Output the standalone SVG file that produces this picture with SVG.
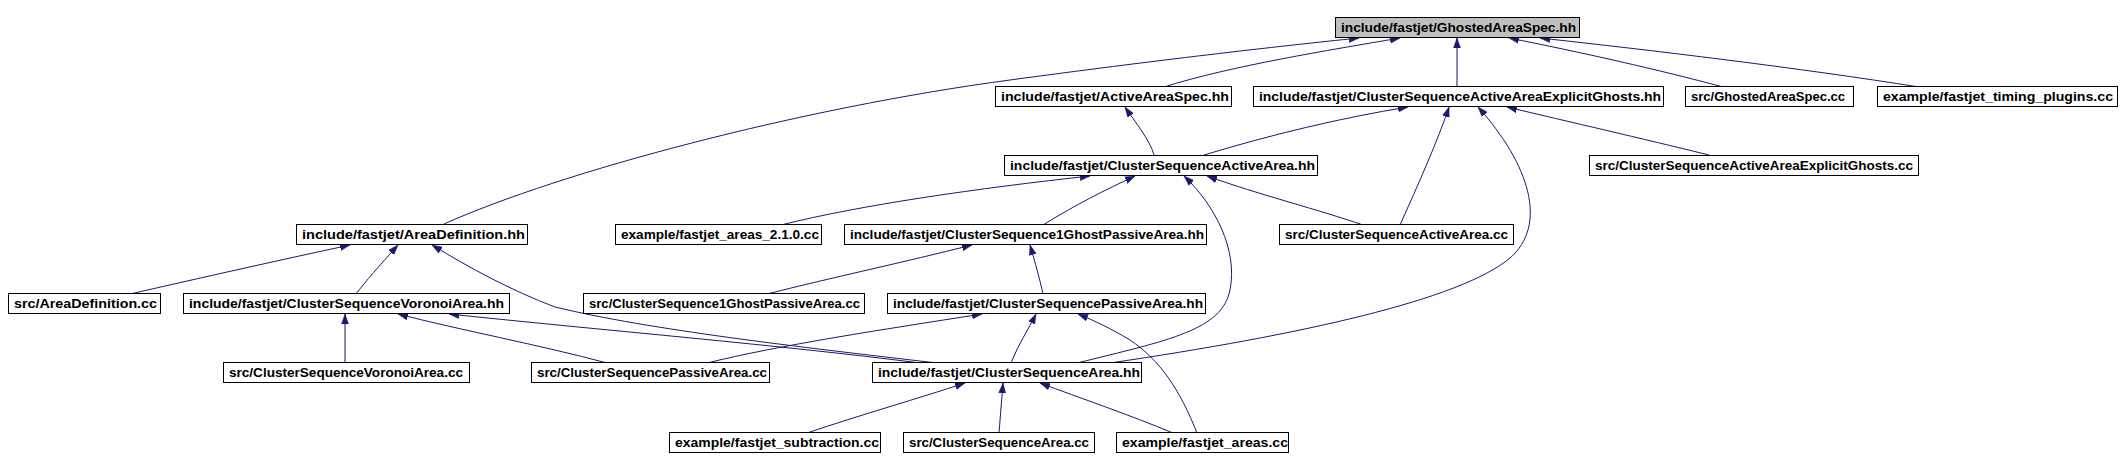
<svg xmlns="http://www.w3.org/2000/svg" width="2122" height="470" viewBox="0 0 2122 470">
<defs>
<style>
.n rect{fill:#fff;stroke:#000;stroke-width:1}
.n.root rect{fill:#bfbfbf}
.n text{font-family:"Liberation Sans",Arial,sans-serif;font-size:12px;font-weight:bold;fill:#000}
.e path{fill:none;stroke:#191970;stroke-width:1;marker-end:url(#ah)}
</style>
<marker id="ah" markerUnits="userSpaceOnUse" markerWidth="11" markerHeight="8" refX="10" refY="4" orient="auto">
<path d="M0,0.5 L10,4 L0,7.5 z" fill="#191970" stroke="#191970" stroke-width="0.5"/>
</marker>
</defs>
<rect width="2122" height="470" fill="#fff"/>
<g id="connectors" class="e">
<path d="M444,224 C560,172 800,108 1010,80 C1150,61 1280,46 1359,38"/>
<path d="M1164,87 C1230,66 1330,50 1400,38"/>
<path d="M1457,87 L1457,38"/>
<path d="M1723,87 C1660,70 1580,52 1509,38"/>
<path d="M1919,87 C1800,68 1650,50 1540,38"/>
<path d="M1154,155 C1150,140 1135,122 1125,107"/>
<path d="M1204,155 C1270,135 1340,118 1408,107"/>
<path d="M1400,225 C1418,185 1438,140 1449,107"/>
<path d="M1110,363 C1300,335 1460,300 1510,258 C1548,225 1530,165 1478,107"/>
<path d="M1709,155 C1640,138 1570,122 1507,107"/>
<path d="M781,225 C860,205 980,188 1090,176"/>
<path d="M1043,225 C1075,205 1105,190 1135,176"/>
<path d="M1077,363 C1170,340 1222,330 1230,290 C1238,250 1215,205 1184,176"/>
<path d="M1363,225 C1320,210 1260,195 1207,176"/>
<path d="M130,294 C200,278 280,260 350,245"/>
<path d="M356,294 C365,282 380,265 398,245"/>
<path d="M937,363 C800,347 650,330 555,307 C510,290 470,268 432,245"/>
<path d="M345,363 L345,314"/>
<path d="M607,363 C540,345 460,330 398,314"/>
<path d="M920,363 C780,345 600,330 449,314"/>
<path d="M767,294 C830,278 905,262 972,245"/>
<path d="M1043,294 C1040,280 1035,262 1030,245"/>
<path d="M1011,363 C1018,345 1028,330 1036,314"/>
<path d="M707,363 C780,345 880,330 982,314"/>
<path d="M1197,433 C1180,390 1160,360 1130,340 C1110,328 1095,321 1078,314"/>
<path d="M807,433 C860,415 920,398 965,383"/>
<path d="M999,433 L1003,383"/>
<path d="M1173,433 C1130,415 1080,398 1040,383"/>
</g>
<g id="node-GhostedAreaSpec-hh" class="n root"><rect x="1335.5" y="17.5" width="244" height="20"/><text x="1341" y="32" textLength="235" lengthAdjust="spacingAndGlyphs">include/fastjet/GhostedAreaSpec.hh</text></g>
<g id="node-AreaDefinition-hh" class="n"><rect x="296.5" y="224.5" width="231" height="20"/><text x="302" y="239" textLength="223" lengthAdjust="spacingAndGlyphs">include/fastjet/AreaDefinition.hh</text></g>
<g id="node-ActiveAreaSpec-hh" class="n"><rect x="995.5" y="86.5" width="236" height="20"/><text x="1001" y="101" textLength="228" lengthAdjust="spacingAndGlyphs">include/fastjet/ActiveAreaSpec.hh</text></g>
<g id="node-CSAAExplicitGhosts-hh" class="n"><rect x="1253.5" y="86.5" width="410" height="20"/><text x="1259" y="101" textLength="402" lengthAdjust="spacingAndGlyphs">include/fastjet/ClusterSequenceActiveAreaExplicitGhosts.hh</text></g>
<g id="node-GhostedAreaSpec-cc" class="n"><rect x="1685.5" y="86.5" width="168" height="20"/><text x="1691" y="101" textLength="154" lengthAdjust="spacingAndGlyphs">src/GhostedAreaSpec.cc</text></g>
<g id="node-timing-plugins-cc" class="n"><rect x="1877.5" y="86.5" width="240" height="20"/><text x="1883" y="101" textLength="230" lengthAdjust="spacingAndGlyphs">example/fastjet_timing_plugins.cc</text></g>
<g id="node-CSActiveArea-hh" class="n"><rect x="1004.5" y="155.5" width="313" height="20"/><text x="1010" y="170" textLength="305" lengthAdjust="spacingAndGlyphs">include/fastjet/ClusterSequenceActiveArea.hh</text></g>
<g id="node-CSAAExplicitGhosts-cc" class="n"><rect x="1589.5" y="155.5" width="329" height="20"/><text x="1595" y="170" textLength="318" lengthAdjust="spacingAndGlyphs">src/ClusterSequenceActiveAreaExplicitGhosts.cc</text></g>
<g id="node-areas-2-1-0-cc" class="n"><rect x="615.5" y="224.5" width="206" height="20"/><text x="621" y="239" textLength="198" lengthAdjust="spacingAndGlyphs">example/fastjet_areas_2.1.0.cc</text></g>
<g id="node-CS1GhostPassiveArea-hh" class="n"><rect x="844.5" y="224.5" width="362" height="20"/><text x="850" y="239" textLength="354" lengthAdjust="spacingAndGlyphs">include/fastjet/ClusterSequence1GhostPassiveArea.hh</text></g>
<g id="node-CSActiveArea-cc" class="n"><rect x="1279.5" y="224.5" width="234" height="20"/><text x="1285" y="239" textLength="223" lengthAdjust="spacingAndGlyphs">src/ClusterSequenceActiveArea.cc</text></g>
<g id="node-AreaDefinition-cc" class="n"><rect x="8.5" y="293.5" width="152" height="20"/><text x="14" y="308" textLength="143" lengthAdjust="spacingAndGlyphs">src/AreaDefinition.cc</text></g>
<g id="node-CSVoronoiArea-hh" class="n"><rect x="183.5" y="293.5" width="326" height="20"/><text x="189" y="308" textLength="315" lengthAdjust="spacingAndGlyphs">include/fastjet/ClusterSequenceVoronoiArea.hh</text></g>
<g id="node-CS1GhostPassiveArea-cc" class="n"><rect x="583.5" y="293.5" width="281" height="20"/><text x="589" y="308" textLength="271" lengthAdjust="spacingAndGlyphs">src/ClusterSequence1GhostPassiveArea.cc</text></g>
<g id="node-CSPassiveArea-hh" class="n"><rect x="887.5" y="293.5" width="318" height="20"/><text x="893" y="308" textLength="310" lengthAdjust="spacingAndGlyphs">include/fastjet/ClusterSequencePassiveArea.hh</text></g>
<g id="node-CSVoronoiArea-cc" class="n"><rect x="223.5" y="362.5" width="246" height="20"/><text x="229" y="377" textLength="234" lengthAdjust="spacingAndGlyphs">src/ClusterSequenceVoronoiArea.cc</text></g>
<g id="node-CSPassiveArea-cc" class="n"><rect x="531.5" y="362.5" width="238" height="20"/><text x="537" y="377" textLength="230" lengthAdjust="spacingAndGlyphs">src/ClusterSequencePassiveArea.cc</text></g>
<g id="node-CSArea-hh" class="n"><rect x="872.5" y="362.5" width="269" height="20"/><text x="878" y="377" textLength="262" lengthAdjust="spacingAndGlyphs">include/fastjet/ClusterSequenceArea.hh</text></g>
<g id="node-subtraction-cc" class="n"><rect x="669.5" y="432.5" width="211" height="20"/><text x="675" y="447" textLength="204" lengthAdjust="spacingAndGlyphs">example/fastjet_subtraction.cc</text></g>
<g id="node-CSArea-cc" class="n"><rect x="903.5" y="432.5" width="191" height="20"/><text x="909" y="447" textLength="180" lengthAdjust="spacingAndGlyphs">src/ClusterSequenceArea.cc</text></g>
<g id="node-areas-cc" class="n"><rect x="1116.5" y="432.5" width="172" height="20"/><text x="1122" y="447" textLength="166" lengthAdjust="spacingAndGlyphs">example/fastjet_areas.cc</text></g>
</svg>
